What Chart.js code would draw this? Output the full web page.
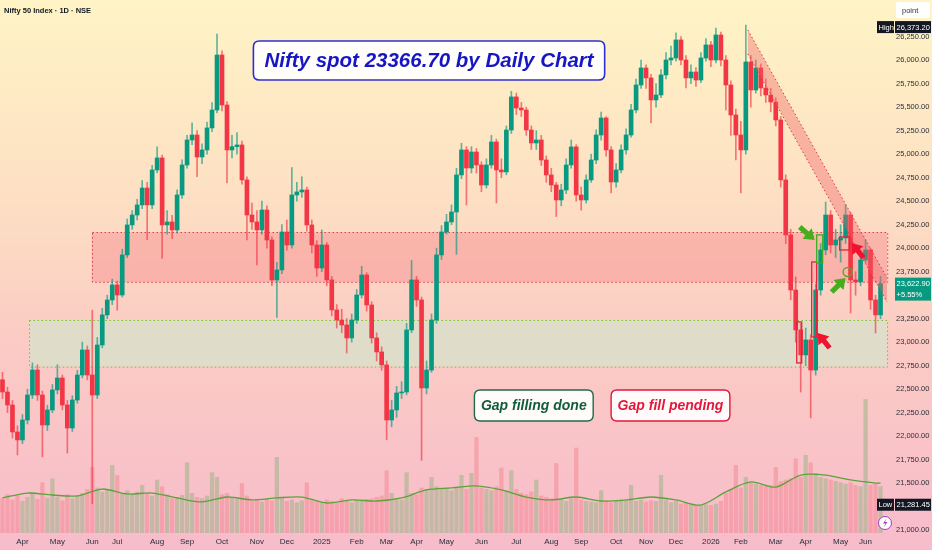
<!DOCTYPE html>
<html>
<head>
<meta charset="utf-8">
<title>Nifty 50 Index - 1D</title>
<script src="https://cdn.jsdelivr.net/npm/chart.js@4.4.1/dist/chart.umd.min.js"></script>
<style>
  html, body { margin: 0; padding: 0; background: #f7bccb; }
  #wrap { width: 932px; height: 550px; }
</style>
</head>
<body>
<div id="wrap"><canvas id="nifty" width="932" height="550"></canvas></div>
<script>
// Candles, one candle per ~3 trading days (Mar 2024 .. Jun 2026)
const firstOpen = 22600;
const closes = [
  22470, 22332, 22045, 21960, 22172, 22438, 22704, 22438, 22119, 22279,
  22492, 22619, 22332, 22087, 22385, 22651, 22917, 22651, 22438, 22970,
  23290, 23449, 23609, 23502, 23928, 24247, 24353, 24460, 24640, 24460,
  24832, 24960, 24247, 24279, 24194, 24566, 24885, 25151, 25204, 24970,
  25045, 25279, 25470, 26055, 25523, 25045, 25080, 25098, 24726, 24353,
  24279, 24194, 24406, 24087, 23662, 23768, 24172, 24034, 24566, 24598,
  24619, 24247, 24034, 23789, 24034, 23662, 23343, 23236, 23183, 23045,
  23236, 23502, 23715, 23396, 23045, 22896, 22758, 22172, 22279, 22460,
  22470, 23130, 23662, 23449, 22513, 22704, 23236, 23928, 24172, 24279,
  24385, 24779, 25045, 24853, 25023, 24885, 24672, 24885, 25130, 24832,
  24811, 25257, 25609, 25491, 25470, 25257, 25119, 25151, 24938, 24779,
  24672, 24513, 24619, 24885, 25077, 24566, 24513, 24726, 24938, 25204,
  25385, 25045, 24704, 24832, 25045, 25204, 25470, 25736, 25917, 25811,
  25577, 25630, 25843, 26002, 26023, 26215, 26002, 25811, 25874, 25789,
  26023, 26162, 26002, 26268, 26002, 25736, 25417, 25204, 25045, 25981,
  25683, 25917, 25704, 25630, 25555, 25364, 24726, 24141, 23555, 23130,
  22864, 23024, 22704, 23555, 23981, 24353, 24034, 24087, 24109, 24353,
  23662, 23641, 23875, 23981, 23449, 23290, 23622.9
];
const highs = [
  22680, 22520, 22380, 22110, 22230, 22500, 22780, 22760, 22480, 22330,
  22550, 22760, 22650, 22380, 22430, 22700, 23000, 22960, 23340, 23050,
  23360, 23500, 23670, 23650, 23990, 24310, 24400, 24520, 24720, 24700,
  24880, 25078, 24990, 24400, 24350, 24620, 24940, 25200, 25333, 25250,
  25110, 25340, 25550, 26277, 26100, 25560, 25200, 25230, 25140, 24760,
  24480, 24400, 24500, 24450, 24120, 23850, 24250, 24300, 24857, 24700,
  24760, 24650, 24300, 24080, 24194, 24060, 23700, 23400, 23350, 23250,
  23300, 23560, 23807, 23740, 23430, 23100, 22950, 22800, 22380, 22530,
  22580, 23200, 23869, 23700, 23480, 22800, 23300, 24000, 24240, 24360,
  24460, 24850, 25116, 25080, 25080, 25060, 24920, 24950, 25200, 25160,
  24950, 25300, 25669, 25650, 25550, 25500, 25300, 25250, 25200, 24980,
  24850, 24700, 24680, 24950, 25150, 25100, 24650, 24780, 25000, 25260,
  25448, 25400, 25080, 24900, 25100, 25270, 25530, 25800, 26000, 25950,
  25850, 25750, 25900, 26080, 26150, 26290, 26250, 26050, 25950, 25920,
  26080, 26230, 26200, 26340, 26300, 26050, 25780, 25480, 25350, 26373.2,
  26050, 26000, 25960, 25800, 25700, 25600, 25400, 24780, 24200, 23694,
  23200, 23150, 23080, 23620, 24050, 24491, 24400, 24200, 24250, 24460,
  24380, 23750, 23950, 24087, 24000, 23500, 23700
];
const lows = [
  22400, 22250, 21980, 21800, 21920, 22130, 22400, 22380, 21780, 22060,
  22250, 22450, 22280, 21820, 22050, 22350, 22620, 22600, 21281.45, 22400,
  22940, 23250, 23400, 23340, 23480, 23900, 24200, 24300, 24420, 24090,
  24420, 24800, 23893, 24150, 24100, 24160, 24530, 24850, 25100, 24760,
  24900, 25000, 25240, 25440, 25460, 24694, 24960, 25000, 24680, 24087,
  24200, 23821, 24150, 24000, 23600, 23263, 23730, 23980, 24000, 24500,
  24540, 24180, 23950, 23700, 23750, 23600, 23280, 23150, 23100, 22885,
  23000, 23200, 23470, 23330, 22990, 22800, 22700, 21964, 22100, 22200,
  22400, 22440, 23100, 23380, 21743, 22450, 22680, 23200, 23880, 24150,
  24250, 23935, 24740, 24460, 24800, 24800, 24600, 24640, 24850, 24481,
  24750, 24780, 25220, 25420, 25400, 25200, 25050, 25050, 24880, 24700,
  24600, 24337, 24450, 24580, 24850, 24500, 24404, 24480, 24700, 24900,
  25150, 24980, 24587, 24650, 24800, 25000, 25180, 25440, 25700, 25700,
  25332, 25500, 25600, 25800, 25950, 25990, 25950, 25704, 25750, 25720,
  25760, 25990, 25930, 25970, 25940, 25470, 25200, 24938, 24587, 25000,
  25500, 25650, 25620, 25550, 25450, 25300, 24650, 24050, 23450, 23000,
  22470, 22750, 22194, 22650, 23500, 23930, 23950, 23900, 23850, 24050,
  23311, 23500, 23600, 23850, 23350, 23098, 23250
];
// Volume (millions, read as bar heights) and its moving average at every 5th candle
const volumes = [
  260, 290, 250, 280, 240, 270, 300, 255, 380, 265,
  410, 270, 245, 290, 260, 280, 300, 330, 495, 340,
  310, 330, 510, 435, 300, 320, 290, 310, 360, 300,
  280, 400, 350, 290, 260, 270, 285, 530, 300, 270,
  260, 280, 455, 420, 290, 300, 265, 255, 375, 280,
  240, 250, 235, 260, 245, 570, 260, 240, 250, 230,
  245, 380, 255, 240, 230, 250, 240, 225, 260, 245,
  230, 250, 240, 255, 260, 270, 280, 470, 300, 260,
  250, 455, 300, 290, 340, 330, 420, 350, 330, 340,
  320, 350, 435, 330, 450, 720, 340, 330, 320, 350,
  490, 320, 470, 330, 300, 290, 310, 400, 280, 270,
  260, 525, 250, 240, 260, 640, 250, 240, 235, 230,
  320, 245, 230, 240, 250, 245, 360, 240, 250, 235,
  245, 240, 435, 250, 230, 240, 220, 230, 215, 210,
  205, 215, 210, 220, 240, 300, 330, 510, 340, 420,
  380, 370, 360, 350, 360, 495, 390, 400, 410, 560,
  420, 585, 530, 450, 420, 410, 400, 390, 380, 370,
  380, 360, 350, 1005, 360, 370, 350
];
const maIndex = [0, 5, 10, 15, 20, 25, 30, 35, 40, 45, 50, 55, 60, 65, 70, 75, 80, 85,
  90, 95, 100, 105, 110, 115, 120, 125, 130, 135, 140, 145, 150, 155, 160, 165, 170, 175, 176];
const maValue = [263, 300, 285, 278, 330, 293, 300, 263, 233, 270, 248, 263, 270, 225, 248, 240, 263, 323,
  338, 353, 323, 270, 248, 270, 240, 248, 270, 248, 210, 308, 383, 345, 435, 435, 398, 375, 375];

// Axis ticks
const priceTicks = [21000, 21250, 21500, 21750, 22000, 22250, 22500, 22750, 23000, 23250, 23500,
  23750, 24000, 24250, 24500, 24750, 25000, 25250, 25500, 25750, 26000, 26250];
const tickIdx = [4, 11, 18, 23, 31, 37, 44, 51, 57, 64, 71, 77, 83, 89, 96, 103, 110, 116, 123,
  129, 135, 142, 148, 155, 161, 168, 173];
const tickText = ['Apr', 'May', 'Jun', 'Jul', 'Aug', 'Sep', 'Oct', 'Nov', 'Dec', '2025', 'Feb', 'Mar',
  'Apr', 'May', 'Jun', 'Jul', 'Aug', 'Sep', 'Oct', 'Nov', 'Dec', '2026', 'Feb', 'Mar', 'Apr', 'May', 'Jun'];

// Drawings on the chart (candle index / price)
const redZone = { from: 17.9, to: 177.3, top: 24170, bottom: 23640 };
const greenZone = { from: 5.3, to: 177.3, top: 23236, bottom: 22740 };
const channel = { x0: 149.4, x1: 177.3, top0: 26321, top1: 23683, bot0: 26066, bot1: 23428 };
const gapBoxes = [
  [159.2, 160.2, 23215, 22779, '#e8203c'],
  [162.2, 163.2, 23853, 23055, '#e8203c'],
  [163.2, 164.4, 24141, 23843, '#3fae1f'],
  [167.8, 169.8, 24119, 23981, '#e8203c']
];
const arrows = [
  [159.8, 24226, 162.8, 24087, '#45ad1e'],
  [166.2, 23534, 169.0, 23683, '#45ad1e'],
  [165.8, 22938, 163.4, 23098, '#f0132f'],
  [172.6, 23896, 170.2, 24056, '#f0132f']
];
const lastPrice = 23622.90, lastChange = '+5.55%', rangeHigh = 26373.20, rangeLow = 21281.45;

const GREEN = '#089981', RED = '#f23645';
const smallFont = "'Liberation Sans', sans-serif";

// Build the tables Chart.js needs
const labels = closes.map((_, i) => 'c' + i).concat(['', '']);
const opens = closes.map((c, i) => i === 0 ? firstOpen : closes[i - 1]);
const up = closes.map((c, i) => c >= opens[i]);
const bodyData = closes.map((c, i) => [opens[i], c]);
const wickData = closes.map((c, i) => [lows[i], highs[i]]);
const maData = labels.map(() => null);
maIndex.forEach((k, j) => { maData[k] = maValue[j]; });

function roundRectPath(ctx, x, y, w, h, r) {
  ctx.beginPath();
  ctx.moveTo(x + r, y);
  ctx.lineTo(x + w - r, y);
  ctx.quadraticCurveTo(x + w, y, x + w, y + r);
  ctx.lineTo(x + w, y + h - r);
  ctx.quadraticCurveTo(x + w, y + h, x + w - r, y + h);
  ctx.lineTo(x + r, y + h);
  ctx.quadraticCurveTo(x, y + h, x, y + h - r);
  ctx.lineTo(x, y + r);
  ctx.quadraticCurveTo(x, y, x + r, y);
  ctx.closePath();
}

function noteBox(ctx, cx, cy, text, o) {
  ctx.save();
  ctx.font = o.font;
  const w = ctx.measureText(text).width + o.padX * 2;
  roundRectPath(ctx, cx - w / 2, cy - o.h / 2, w, o.h, 6);
  ctx.fillStyle = 'rgba(255,255,255,0.92)';
  ctx.fill();
  ctx.lineWidth = o.lw;
  ctx.strokeStyle = o.border;
  ctx.stroke();
  ctx.fillStyle = o.color;
  ctx.textAlign = 'center';
  ctx.textBaseline = 'middle';
  ctx.fillText(text, cx, cy + 1);
  ctx.restore();
}

function blockArrow(ctx, x0, y0, x1, y1, color) {
  const ang = Math.atan2(y1 - y0, x1 - x0), len = Math.hypot(x1 - x0, y1 - y0);
  const hl = 10, hw = 7, sw = 2.6;
  ctx.save();
  ctx.translate(x0, y0);
  ctx.rotate(ang);
  ctx.beginPath();
  ctx.moveTo(0, -sw);
  ctx.lineTo(len - hl, -sw);
  ctx.lineTo(len - hl, -hw);
  ctx.lineTo(len, 0);
  ctx.lineTo(len - hl, hw);
  ctx.lineTo(len - hl, sw);
  ctx.lineTo(0, sw);
  ctx.closePath();
  ctx.fillStyle = color;
  ctx.fill();
  ctx.restore();
}

function axisTag(ctx, y, left, text, bg) {
  ctx.save();
  ctx.font = '7.5px ' + smallFont;
  ctx.fillStyle = bg;
  ctx.fillRect(877, y - 6, 17, 12);
  ctx.fillRect(895, y - 6, 36, 12);
  ctx.fillStyle = '#ffffff';
  ctx.textBaseline = 'middle';
  ctx.fillText(left, 878.5, y + 0.5);
  ctx.fillText(text, 896.5, y + 0.5);
  ctx.restore();
}

const scenePlugin = {
  id: 'scene',
  beforeDraw(chart) {
    const { ctx, width, height } = chart;
    const g = ctx.createLinearGradient(0, 0, 0, height);
    g.addColorStop(0, '#fff4c6');
    g.addColorStop(0.35, '#fde0c3');
    g.addColorStop(0.62, '#fbcbc4');
    g.addColorStop(1, '#f7bccb');
    ctx.save();
    ctx.fillStyle = g;
    ctx.fillRect(0, 0, width, height);
    ctx.restore();
  },
  beforeDatasetsDraw(chart) {
    const { ctx, scales: { x, y } } = chart;
    [[redZone, 'rgba(245,110,120,0.33)', '#e0384c'], [greenZone, 'rgba(200,235,205,0.55)', '#86b83a']].forEach(([z, fill, line]) => {
      const x0 = x.getPixelForValue(z.from), x1 = x.getPixelForValue(z.to);
      const y0 = y.getPixelForValue(z.top), y1 = y.getPixelForValue(z.bottom);
      ctx.save();
      ctx.fillStyle = fill;
      ctx.fillRect(x0, y0, x1 - x0, y1 - y0);
      ctx.setLineDash([1.5, 2.5]);
      ctx.lineWidth = 1;
      ctx.strokeStyle = line;
      ctx.strokeRect(Math.round(x0) + 0.5, Math.round(y0) + 0.5, x1 - x0, y1 - y0);
      ctx.restore();
    });
  },
  afterDatasetsDraw(chart) {
    const { ctx, scales: { x, y } } = chart;
    const X = v => x.getPixelForValue(v), Y = v => y.getPixelForValue(v);

    // falling channel
    ctx.save();
    ctx.beginPath();
    ctx.moveTo(X(channel.x0), Y(channel.top0));
    ctx.lineTo(X(channel.x1), Y(channel.top1));
    ctx.lineTo(X(channel.x1), Y(channel.bot1));
    ctx.lineTo(X(channel.x0), Y(channel.bot0));
    ctx.closePath();
    ctx.fillStyle = 'rgba(240,95,100,0.38)';
    ctx.fill();
    ctx.setLineDash([1.5, 2.5]);
    ctx.strokeStyle = '#d9394a';
    ctx.lineWidth = 1;
    ctx.beginPath();
    ctx.moveTo(X(channel.x0), Y(channel.top0));
    ctx.lineTo(X(channel.x1), Y(channel.top1));
    ctx.moveTo(X(channel.x0), Y(channel.bot0));
    ctx.lineTo(X(channel.x1), Y(channel.bot1));
    ctx.stroke();
    ctx.restore();

    // gap candles outlined
    gapBoxes.forEach(([i0, i1, top, bot, col]) => {
      ctx.save();
      ctx.strokeStyle = col;
      ctx.lineWidth = 1.3;
      ctx.strokeRect(X(i0), Y(top), X(i1) - X(i0), Y(bot) - Y(top));
      ctx.restore();
    });
    ctx.save();
    ctx.beginPath();
    ctx.arc(X(169.4), Y(23747), 4.5, 0, Math.PI * 2);
    ctx.strokeStyle = '#5aa82a';
    ctx.lineWidth = 1.5;
    ctx.stroke();
    ctx.restore();

    arrows.forEach(([i0, v0, i1, v1, col]) => blockArrow(ctx, X(i0), Y(v0), X(i1), Y(v1), col));

    // text notes
    noteBox(ctx, X(85.5), Y(25997), 'Nifty spot 23366.70 by Daily Chart',
      { font: "italic bold 20.5px 'Liberation Sans', sans-serif", padX: 11, h: 39, lw: 1.6, border: '#2f2fd0', color: '#1616c4' });
    noteBox(ctx, X(106.5), Y(22327), 'Gap filling done',
      { font: "italic bold 14px 'Liberation Sans', sans-serif", padX: 6.5, h: 31, lw: 1.4, border: '#1f6b48', color: '#115c3c' });
    noteBox(ctx, X(133.9), Y(22327), 'Gap fill pending',
      { font: "italic bold 14px 'Liberation Sans', sans-serif", padX: 6.5, h: 31, lw: 1.4, border: '#e3173b', color: '#e3173b' });
  },
  afterDraw(chart) {
    const { ctx, scales: { y } } = chart;
    ctx.save();
    // header
    ctx.font = 'bold 7.5px ' + smallFont;
    ctx.fillStyle = '#131722';
    ctx.textBaseline = 'middle';
    ctx.fillText('Nifty 50 Index · 1D · NSE', 4, 10.5);

    // "point" scale button
    roundRectPath(ctx, 896, 2, 34, 16, 2);
    ctx.fillStyle = '#ffffff';
    ctx.fill();
    ctx.font = '7.5px ' + smallFont;
    ctx.fillStyle = '#333';
    ctx.fillText('point', 902, 10.5);
    ctx.restore();

    axisTag(ctx, y.getPixelForValue(rangeHigh) + 2, 'High', rangeHigh.toLocaleString('en-US', { minimumFractionDigits: 2 }), '#131722');
    axisTag(ctx, y.getPixelForValue(rangeLow) + 1, 'Low', rangeLow.toLocaleString('en-US', { minimumFractionDigits: 2 }), '#131722');

    // last price tag
    const py = y.getPixelForValue(lastPrice);
    ctx.save();
    ctx.fillStyle = GREEN;
    ctx.fillRect(895, py - 6, 36, 23);
    ctx.fillStyle = '#ffffff';
    ctx.font = '7.5px ' + smallFont;
    ctx.textBaseline = 'middle';
    ctx.fillText(lastPrice.toLocaleString('en-US', { minimumFractionDigits: 2 }), 896.5, py);
    ctx.fillText(lastChange, 896.5, py + 11);

    // alert icon
    ctx.beginPath();
    ctx.arc(885, 523, 6.5, 0, Math.PI * 2);
    ctx.fillStyle = '#ffffff';
    ctx.fill();
    ctx.strokeStyle = '#a23bc4';
    ctx.lineWidth = 1;
    ctx.stroke();
    ctx.beginPath();
    ctx.moveTo(886.5, 518.5);
    ctx.lineTo(883, 523.5);
    ctx.lineTo(885.5, 523.5);
    ctx.lineTo(883.5, 527.5);
    ctx.lineTo(887.5, 522);
    ctx.lineTo(885, 522);
    ctx.closePath();
    ctx.fillStyle = '#a23bc4';
    ctx.fill();
    ctx.restore();
  }
};

const ctx = document.getElementById('nifty').getContext('2d');
const chart = new Chart(ctx, {
  type: 'bar',
  data: {
    labels: labels,
    datasets: [
      {
        label: 'Body',
        data: bodyData,
        backgroundColor: up.map(u => u ? GREEN : RED),
        barThickness: 4,
        minBarLength: 1,
        grouped: false,
        order: 0
      },
      {
        label: 'Wick',
        data: wickData,
        backgroundColor: up.map(u => u ? 'rgba(8,153,129,0.65)' : 'rgba(242,54,69,0.65)'),
        barThickness: 1,
        grouped: false,
        order: 1
      },
      {
        type: 'line',
        label: 'Volume MA',
        data: maData,
        yAxisID: 'yv',
        borderColor: '#5aa33a',
        borderWidth: 1.3,
        pointRadius: 0,
        spanGaps: true,
        tension: 0.3,
        order: 2
      },
      {
        label: 'Volume',
        data: volumes,
        yAxisID: 'yv',
        backgroundColor: up.map(u => u ? 'rgba(120,175,110,0.4)' : 'rgba(242,54,69,0.22)'),
        barPercentage: 0.85,
        categoryPercentage: 1,
        grouped: false,
        order: 3
      }
    ]
  },
  options: {
    responsive: false,
    animation: false,
    events: [],
    layout: { padding: 0 },
    plugins: { legend: { display: false }, tooltip: { enabled: false } },
    scales: {
      x: {
        type: 'category',
        offset: true,
        grid: { display: false, drawTicks: false },
        border: { display: false },
        ticks: {
          autoSkip: false,
          maxRotation: 0,
          padding: 4,
          color: '#2a2e39',
          font: { size: 8, family: smallFont },
          callback: (val, idx) => {
            const k = tickIdx.indexOf(idx);
            return k >= 0 ? tickText[k] : '';
          }
        },
        afterFit: s => { s.height = 17; s.paddingLeft = 0; s.paddingRight = 0; }
      },
      y: {
        position: 'right',
        min: 20970,
        max: 26640,
        grid: { display: false, drawTicks: false },
        border: { display: false },
        afterBuildTicks: s => { s.ticks = priceTicks.map(v => ({ value: v })); },
        ticks: {
          padding: 3,
          color: '#2a2e39',
          font: { size: 7.5, family: smallFont },
          callback: v => v.toLocaleString('en-US', { minimumFractionDigits: 2, maximumFractionDigits: 2 })
        },
        afterFit: s => { s.width = 39; s.paddingTop = 0; s.paddingBottom = 0; }
      },
      yv: {
        display: false,
        min: 0,
        max: 4000
      }
    }
  },
  plugins: [scenePlugin]
});
</script>
</body>
</html>
